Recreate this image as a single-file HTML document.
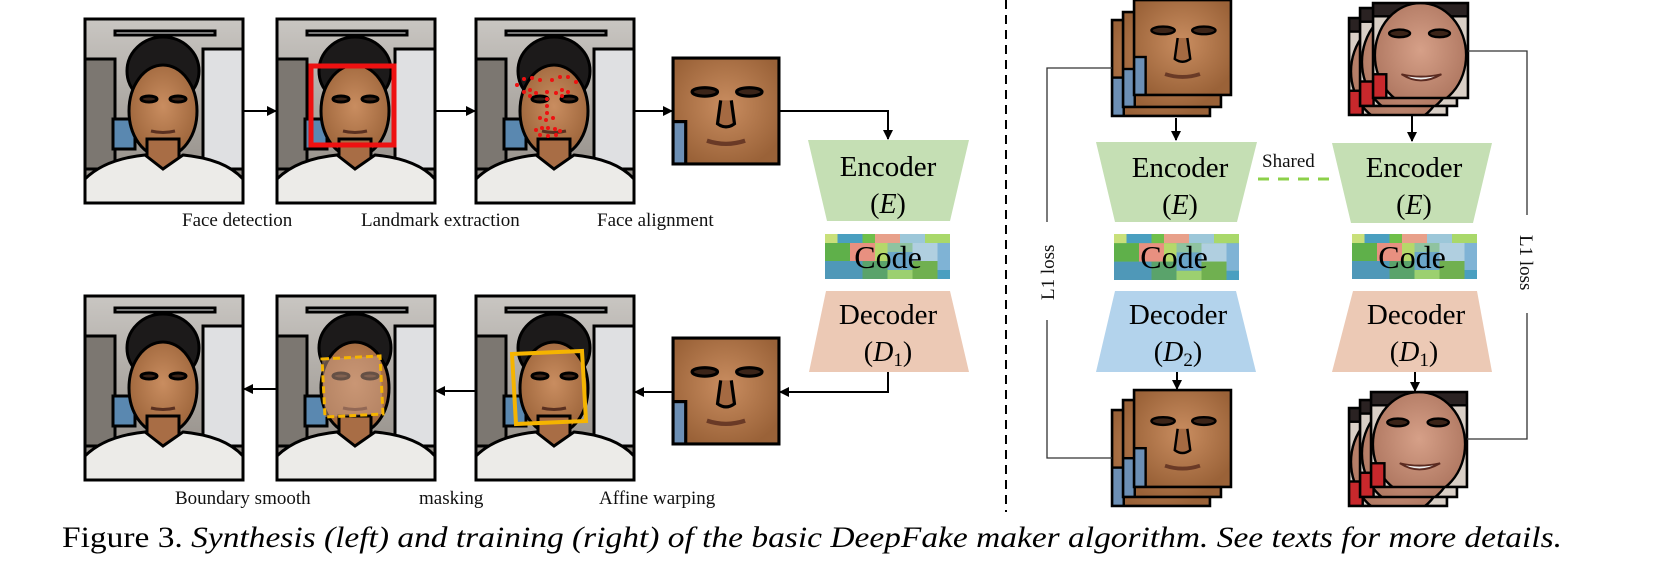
<!DOCTYPE html>
<html><head><meta charset="utf-8"><style>
html,body{margin:0;padding:0;background:#fff;}
svg{display:block;}
text{font-family:"Liberation Serif","Times New Roman",serif;}
</style></head><body>
<svg width="1677" height="562" viewBox="0 0 1677 562" xmlns="http://www.w3.org/2000/svg" font-family="Liberation Serif, serif">
<defs>
<marker id="ah" markerWidth="10" markerHeight="10" refX="9" refY="5" orient="auto" markerUnits="userSpaceOnUse">
<path d="M0,0 L10,5 L0,10 z" fill="#000"/></marker>
<linearGradient id="wall" x1="0" y1="0" x2="0" y2="1"><stop offset="0" stop-color="#c9c6c2"/><stop offset="1" stop-color="#8d8780"/></linearGradient>
<radialGradient id="skin" cx="0.5" cy="0.45" r="0.6"><stop offset="0" stop-color="#c98d60"/><stop offset="1" stop-color="#9a6238"/></radialGradient>
<radialGradient id="skin2" cx="0.5" cy="0.45" r="0.65"><stop offset="0" stop-color="#d6a088"/><stop offset="1" stop-color="#a8705a"/></radialGradient>
<symbol id="P" viewBox="0 0 158 184" preserveAspectRatio="none">
<rect width="158" height="184" fill="url(#wall)"/>
<rect x="0" y="40" width="30" height="110" fill="#7c7771"/>
<rect x="118" y="30" width="40" height="120" fill="#dfe0e2"/>
<rect x="28" y="100" width="22" height="30" fill="#5a88b0"/>
<rect x="30" y="12" width="100" height="4" fill="#f0f0f0"/>
<ellipse cx="78" cy="52" rx="36" ry="34" fill="#1c1a1a"/>
<ellipse cx="78" cy="92" rx="34" ry="46" fill="url(#skin)"/>
<rect x="62" y="120" width="32" height="30" fill="#a86d45"/>
<path d="M0,184 L0,160 Q20,140 60,136 L78,150 L98,136 Q140,140 158,160 L158,184 z" fill="#ecebe8"/>
<ellipse cx="64" cy="80" rx="8" ry="3" fill="#3a2418"/>
<ellipse cx="93" cy="80" rx="8" ry="3" fill="#3a2418"/>
<path d="M66,112 Q78,115 90,112" stroke="#5a3020" stroke-width="3" fill="none"/>
</symbol>
<symbol id="F" viewBox="0 0 100 100" preserveAspectRatio="none">
<rect width="100" height="100" fill="url(#skin)"/>
<rect x="0" y="60" width="12" height="40" fill="#6c8fb5"/>
<ellipse cx="30" cy="32" rx="12" ry="4" fill="#3b2418"/>
<ellipse cx="72" cy="32" rx="12" ry="4" fill="#3b2418"/>
<path d="M45,40 L42,62 Q50,68 58,62 L55,40" fill="#a56a42"/>
<path d="M32,78 Q50,84 68,78" stroke="#6a3a26" stroke-width="4" fill="none"/>
</symbol>
<symbol id="G" viewBox="0 0 100 100" preserveAspectRatio="none">
<rect width="100" height="100" fill="#d9cfc6"/>
<rect x="0" y="0" width="100" height="14" fill="#2a2222"/>
<ellipse cx="50" cy="55" rx="48" ry="55" fill="url(#skin2)"/>
<rect x="0" y="75" width="14" height="25" fill="#c8282c"/>
<ellipse cx="28" cy="32" rx="11" ry="4" fill="#3b2418"/>
<ellipse cx="70" cy="32" rx="11" ry="4" fill="#3b2418"/>
<path d="M30,75 Q50,88 72,75 Q50,80 30,75 z" fill="#eee" stroke="#5a2a20" stroke-width="2"/>
</symbol>
<symbol id="C" viewBox="0 0 10 5" preserveAspectRatio="none">
<rect x="0" y="0" width="10" height="5" fill="#7fc06a"/>
<rect x="0" y="0" width="1" height="1" fill="#c9e07a"/><rect x="1" y="0" width="2" height="1" fill="#4a9fc0"/><rect x="3" y="0" width="1" height="1" fill="#6fbf4a"/><rect x="4" y="0" width="2" height="1" fill="#e8a08a"/><rect x="6" y="0" width="2" height="1" fill="#9cc7d9"/><rect x="8" y="0" width="2" height="1" fill="#a9d86a"/>
<rect x="0" y="1" width="2" height="2" fill="#5fb04a"/><rect x="2" y="1" width="2" height="2" fill="#e89080"/><rect x="4" y="1" width="1" height="2" fill="#b5d86a"/><rect x="5" y="1" width="2" height="1" fill="#8fc3a0"/><rect x="7" y="1" width="2" height="2" fill="#b0cfe0"/><rect x="9" y="1" width="1" height="3" fill="#7fb3d5"/>
<rect x="5" y="2" width="2" height="2" fill="#6aa5c8"/>
<rect x="0" y="3" width="3" height="2" fill="#4f98b8"/><rect x="3" y="3" width="2" height="2" fill="#5aa36b"/><rect x="5" y="4" width="2" height="1" fill="#9cd070"/><rect x="7" y="3" width="2" height="2" fill="#70b050"/><rect x="9" y="4" width="1" height="1" fill="#4a9fc0"/>
</symbol>
</defs>

<g stroke="#000" stroke-width="3">
<use href="#P" x="85" y="19" width="158" height="184"/><rect x="85" y="19" width="158" height="184" fill="none"/>
<use href="#P" x="277" y="19" width="158" height="184"/><rect x="277" y="19" width="158" height="184" fill="none"/>
<use href="#P" x="476" y="19" width="158" height="184"/><rect x="476" y="19" width="158" height="184" fill="none"/>
<use href="#F" x="673" y="58" width="106" height="106"/><rect x="673" y="58" width="106" height="106" fill="none"/>
<use href="#P" x="85" y="296" width="158" height="184"/><rect x="85" y="296" width="158" height="184" fill="none"/>
<use href="#P" x="277" y="296" width="158" height="184"/><rect x="277" y="296" width="158" height="184" fill="none"/>
<use href="#P" x="476" y="296" width="158" height="184"/><rect x="476" y="296" width="158" height="184" fill="none"/>
<use href="#F" x="673" y="338" width="106" height="106"/><rect x="673" y="338" width="106" height="106" fill="none"/>
</g>
<rect x="311" y="66" width="83" height="79" fill="none" stroke="#ee1111" stroke-width="5"/>
<g fill="#ee1111">
<circle cx="517" cy="85" r="2"/><circle cx="524" cy="79" r="2"/><circle cx="532" cy="78" r="2"/><circle cx="540" cy="80" r="2"/><circle cx="552" cy="80" r="2"/><circle cx="560" cy="77" r="2"/><circle cx="568" cy="77" r="2"/><circle cx="576" cy="82" r="2"/>
<circle cx="524" cy="92" r="2"/><circle cx="530" cy="90" r="2"/><circle cx="536" cy="93" r="2"/><circle cx="530" cy="96" r="2"/><circle cx="562" cy="90" r="2"/><circle cx="568" cy="92" r="2"/><circle cx="556" cy="93" r="2"/><circle cx="562" cy="96" r="2"/>
<circle cx="547" cy="92" r="2"/><circle cx="547" cy="99" r="2"/><circle cx="547" cy="106" r="2"/><circle cx="547" cy="113" r="2"/>
<circle cx="540" cy="118" r="2"/><circle cx="546" cy="120" r="2"/><circle cx="553" cy="118" r="2"/>
<circle cx="536" cy="130" r="2"/><circle cx="542" cy="128" r="2"/><circle cx="548" cy="128" r="2"/><circle cx="555" cy="129" r="2"/><circle cx="560" cy="131" r="2"/><circle cx="540" cy="135" r="2"/><circle cx="548" cy="136" r="2"/><circle cx="556" cy="135" r="2"/>
</g>
<polygon points="512,354 582,351 586,421 516,424" fill="none" stroke="#f5b400" stroke-width="4"/>
<polygon points="322,359 380,356 383,414 325,417" fill="#c9a08a" fill-opacity="0.5" stroke="#f5b400" stroke-width="3" stroke-dasharray="7 4"/>

<g stroke="#000" stroke-width="2" fill="none" marker-end="url(#ah)">
<line x1="244" y1="111" x2="276" y2="111"/>
<line x1="436" y1="111" x2="475" y2="111"/>
<line x1="635" y1="111" x2="672" y2="111"/>
<polyline points="780,111 888,111 888,139"/>
<polyline points="888,372 888,392 780,392"/>
<line x1="672" y1="392" x2="635" y2="392"/>
<line x1="475" y1="391" x2="436" y2="391"/>
<line x1="277" y1="389" x2="244" y2="389"/>
</g>

<g font-size="19" fill="#111">
<text x="182" y="226">Face detection</text>
<text x="361" y="226">Landmark extraction</text>
<text x="597" y="226">Face alignment</text>
<text x="175" y="504">Boundary smooth</text>
<text x="419" y="504">masking</text>
<text x="599" y="504">Affine warping</text>
</g>

<polygon points="808,140 969,140 950,221 827,221" fill="#c5dfb4"/>
<use href="#C" x="825" y="234" width="125" height="45"/>
<polygon points="826,291 950,291 969,372 809,372" fill="#ecc9b5"/>
<g fill="#000" text-anchor="middle">
<text x="888" y="176" font-size="29">Encoder</text>
<text x="888" y="213" font-size="28">(<tspan font-style="italic">E</tspan>)</text>
<text x="888" y="268" font-size="32">Code</text>
<text x="888" y="324" font-size="29">Decoder</text>
<text x="888" y="361" font-size="28">(<tspan font-style="italic">D</tspan><tspan font-size="19" dy="5">1</tspan><tspan dy="-5">)</tspan></text>
</g>

<line x1="1006" y1="0" x2="1006" y2="512" stroke="#000" stroke-width="2" stroke-dasharray="9 6"/>

<g stroke="#000" stroke-width="2.5">
<use href="#F" x="1112" y="20" width="98" height="96"/><rect x="1112" y="20" width="98" height="96" fill="none"/>
<use href="#F" x="1123" y="12" width="98" height="95"/><rect x="1123" y="12" width="98" height="95" fill="none"/>
<use href="#F" x="1134" y="0" width="97" height="95"/><rect x="1134" y="0" width="97" height="95" fill="none"/>
<use href="#F" x="1112" y="410" width="98" height="96"/><rect x="1112" y="410" width="98" height="96" fill="none"/>
<use href="#F" x="1123" y="400" width="98" height="97"/><rect x="1123" y="400" width="98" height="97" fill="none"/>
<use href="#F" x="1134" y="390" width="97" height="97"/><rect x="1134" y="390" width="97" height="97" fill="none"/>

<use href="#G" x="1349" y="18" width="98" height="97"/><rect x="1349" y="18" width="98" height="97" fill="none"/>
<use href="#G" x="1360" y="8" width="97" height="98"/><rect x="1360" y="8" width="97" height="98" fill="none"/>
<use href="#G" x="1373" y="3" width="95" height="95"/><rect x="1373" y="3" width="95" height="95" fill="none"/>
<use href="#G" x="1349" y="408" width="98" height="98"/><rect x="1349" y="408" width="98" height="98" fill="none"/>
<use href="#G" x="1360" y="400" width="97" height="97"/><rect x="1360" y="400" width="97" height="97" fill="none"/>
<use href="#G" x="1371" y="392" width="96" height="95"/><rect x="1371" y="392" width="96" height="95" fill="none"/>
</g>

<polygon points="1096,142 1257,142 1237,222 1115,222" fill="#c5dfb4"/>
<use href="#C" x="1114" y="234" width="125" height="46"/>
<polygon points="1115,291 1236,291 1256,372 1096,372" fill="#b3d3ec"/>
<polygon points="1332,143 1492,143 1473,223 1351,223" fill="#c5dfb4"/>
<use href="#C" x="1352" y="234" width="125" height="45"/>
<polygon points="1353,291 1477,291 1492,372 1332,372" fill="#ecc9b5"/>
<g fill="#000" text-anchor="middle">
<text x="1180" y="177" font-size="29">Encoder</text>
<text x="1180" y="214" font-size="28">(<tspan font-style="italic">E</tspan>)</text>
<text x="1174" y="268" font-size="32">Code</text>
<text x="1178" y="324" font-size="29">Decoder</text>
<text x="1178" y="361" font-size="28">(<tspan font-style="italic">D</tspan><tspan font-size="19" dy="5">2</tspan><tspan dy="-5">)</tspan></text>
<text x="1414" y="177" font-size="29">Encoder</text>
<text x="1414" y="214" font-size="28">(<tspan font-style="italic">E</tspan>)</text>
<text x="1412" y="268" font-size="32">Code</text>
<text x="1416" y="324" font-size="29">Decoder</text>
<text x="1414" y="361" font-size="28">(<tspan font-style="italic">D</tspan><tspan font-size="19" dy="5">1</tspan><tspan dy="-5">)</tspan></text>
</g>
<text x="1262" y="167" font-size="19" fill="#111">Shared</text>
<line x1="1258" y1="179" x2="1335" y2="179" stroke="#8cd04a" stroke-width="3" stroke-dasharray="11 9"/>

<g stroke="#000" stroke-width="2" fill="none" marker-end="url(#ah)">
<line x1="1176" y1="118" x2="1176" y2="140"/>
<line x1="1177" y1="372" x2="1177" y2="389"/>
<line x1="1412" y1="116" x2="1412" y2="141"/>
<line x1="1415" y1="372" x2="1415" y2="391"/>
</g>
<g stroke="#333" stroke-width="1.3" fill="none">
<polyline points="1112,68 1047,68 1047,222"/>
<polyline points="1047,320 1047,458 1112,458"/>
<polyline points="1468,51 1527,51 1527,215"/>
<polyline points="1527,313 1527,439 1467,439"/>
</g>
<text font-size="19" fill="#111" transform="translate(1054,300) rotate(-90)">L1 loss</text>
<text font-size="19" fill="#111" transform="translate(1520,235) rotate(90)">L1 loss</text>

<text x="62" y="547" font-size="30" fill="#000" textLength="1500" lengthAdjust="spacingAndGlyphs">Figure 3. <tspan font-style="italic">Synthesis (left) and training (right) of the basic DeepFake maker algorithm. See texts for more details.</tspan></text>
</svg>
</body></html>
